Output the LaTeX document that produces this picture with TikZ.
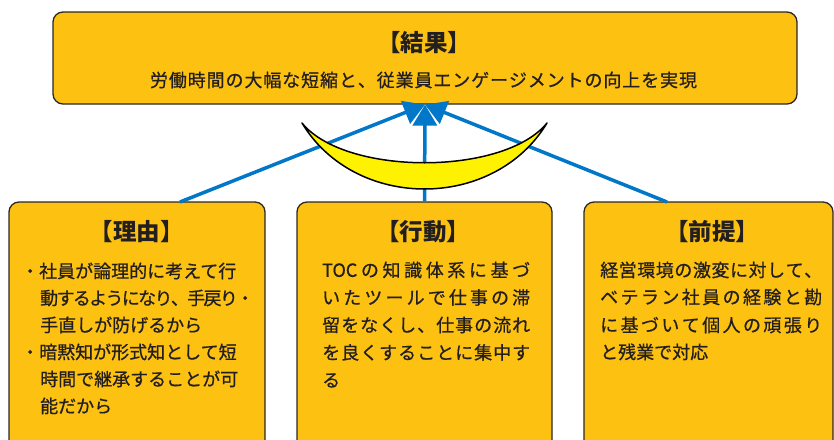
\documentclass[tikz,border=0pt]{standalone}
\usepackage{fontspec}
\setmainfont{Noto Sans CJK JP}
\newfontfamily\jpmed[RawFeature={embolden=0.7}]{Noto Sans CJK JP}
\usetikzlibrary{arrows.meta}
\definecolor{boxfill}{RGB}{253,193,17}
\definecolor{boxline}{RGB}{40,40,40}
\definecolor{arrowblue}{RGB}{0,119,200}
\definecolor{moon}{RGB}{255,242,0}
\definecolor{txt}{RGB}{35,31,32}
\newskip\SPskip \SPskip=0pt plus 1fil minus 4pt
\def\SPend{}
\def\SPa#1{#1\SPb}
\def\SPb#1{\ifx#1\SPend\else\hskip\SPskip #1\expandafter\SPb\fi}
\newcommand\jline[2]{\hbox to #1{\SPa#2\SPend}}
\def\TOCword{TOC}
\tikzset{
  box/.style={draw=boxline, line width=1.3pt, fill=boxfill, rounded corners=10pt, inner sep=0pt},
  ttl/.style={font=\fontsize{23.5}{23.5}\selectfont\bfseries, text=txt, inner sep=0pt},
  sub/.style={font=\jpmed\fontsize{18}{18}\selectfont, text=txt, inner sep=0pt},
  body/.style={font=\jpmed\fontsize{18}{18}\selectfont, text=txt, inner sep=0pt, anchor=base west},
  arr/.style={draw=arrowblue, line width=3.5pt, -{Triangle[length=21pt,width=24pt]}},
  crescent/.style={fill=moon, draw=black, line width=1.5pt, line join=round}
}
\begin{document}
\begin{tikzpicture}[x=1pt,y=-1pt]
\clip (0,0) rectangle (834,439);
\fill[white] (0,0) rectangle (834,439);
% boxes
\node[box, minimum width=744pt, minimum height=92pt] (res) at (425,58) {};
\node[box, minimum width=256pt, minimum height=260pt] (lb) at (137,332) {};
\node[box, minimum width=255pt, minimum height=260pt] (mb) at (424.5,332) {};
\node[box, minimum width=249pt, minimum height=260pt] (rb) at (708.5,332) {};
% arrows
\coordinate (ls) at (180,202);
\coordinate (rs) at (667,202);
\draw[arr] (ls) -- (res.south);
\draw[arr] (rs) -- (res.south);
\draw[arr] (mb.north) -- (res.south);
% crescent
\draw[crescent] (302,123) .. controls (345,176) and (504,176) .. (547,123)
  .. controls (494,211) and (355,211) .. cycle;
% top texts
\node[ttl] (t0) at (424,43) {【結果】};
\node[sub] (s0) at (423.5,80) {\jline{547pt}{労働時間の大幅な短縮と、従業員エンゲージメントの向上を実現}};
% left
\node[ttl] (t1) at (136.5,232) {【理由】};
\node[body] (l1) at (21,277.8) {・社員が論理的に考えて行};
\node[body] (l2) at (40,304.8) {\jline{214pt}{動するようになり、手戻り・}};
\node[body] (l3) at (40,331.8) {手直しが防げるから};
\node[body] (l4) at (21,358.8) {・暗黙知が形式知として短};
\node[body] (l5) at (40,385.8) {時間で継承することが可};
\node[body] (l6) at (40,412.8) {能だから};
% middle
\node[ttl] (t2) at (423,232) {【行動】};
\node[body] (m1) at (322,276.8) {\jline{208pt}{\TOCword の知識体系に基づ}};
\node[body] (m2) at (322,304.3) {\jline{208pt}{いたツールで仕事の滞}};
\node[body] (m3) at (322,331.8) {\jline{208pt}{留をなくし、仕事の流れ}};
\node[body] (m4) at (322,359.3) {\jline{208pt}{を良くすることに集中す}};
\node[body] (m5) at (322,386.8) {る};
% right
\node[ttl] (t3) at (712,232) {【前提】};
\node[body] (r1) at (600,276.8) {\jline{222pt}{経営環境の激変に対して、}};
\node[body] (r2) at (600,303.8) {\jline{222pt}{ベテラン社員の経験と勘}};
\node[body] (r3) at (600,331.8) {\jline{222pt}{に基づいて個人の頑張り}};
\node[body] (r4) at (600,358.8) {と残業で対応};
\end{tikzpicture}
\end{document}
